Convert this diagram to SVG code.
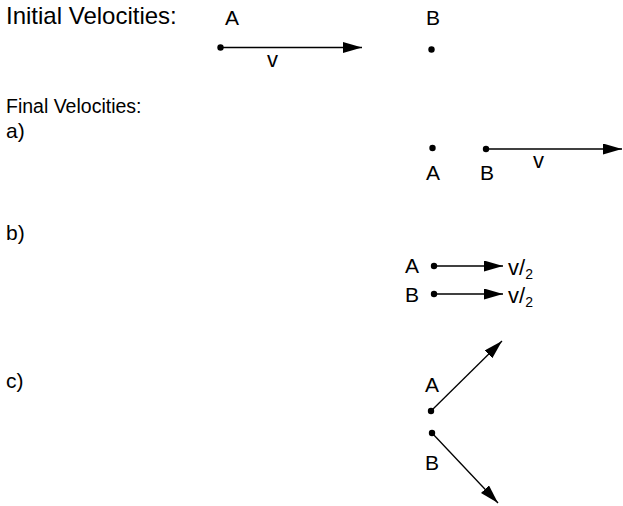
<svg xmlns="http://www.w3.org/2000/svg" width="623" height="506" viewBox="0 0 623 506">
  <style>
    text { font-family: "Liberation Sans", Arial, sans-serif; fill: #000; }
    .lbl { font-size: 21px; }
    .head { font-size: 24px; }
    .sub { font-size: 19.5px; }
    .vel { font-size: 22px; }
    .dot { fill: #000; }
    .arr { stroke: #000; stroke-width: 1.3; fill: none; marker-end: url(#ah); }
  </style>
  <defs>
    <marker id="ah" viewBox="0 0 19 11" refX="19" refY="5.5" markerWidth="19" markerHeight="11" markerUnits="userSpaceOnUse" orient="auto">
      <path d="M0,0 L19,5.5 L0,11 Z" fill="#000"/>
    </marker>
  </defs>

  <g id="headings">
    <text class="head" x="6" y="24">Initial Velocities:</text>
    <text class="sub" x="6" y="113">Final Velocities:</text>
    <text class="lbl" x="6" y="138">a)</text>
    <text class="lbl" x="6" y="240">b)</text>
    <text class="lbl" x="6" y="388">c)</text>
  </g>

  <g id="initial-A">
    <text class="lbl" x="225" y="25">A</text>
    <circle class="dot" cx="220.5" cy="47.5" r="3.2"/>
  </g>
  <g id="initial-B">
    <text class="lbl" x="426" y="25">B</text>
    <circle class="dot" cx="431.5" cy="49.5" r="3.2"/>
  </g>

  <g id="a-A">
    <circle class="dot" cx="432.5" cy="148" r="3.2"/>
    <text class="lbl" x="426" y="180">A</text>
  </g>
  <g id="a-B">
    <circle class="dot" cx="486" cy="149" r="3.2"/>
    <text class="lbl" x="480" y="180">B</text>
  </g>

  <g id="b-A">
    <text class="lbl" x="405" y="273">A</text>
    <circle class="dot" cx="434" cy="266" r="3.2"/>
  </g>
  <g id="b-B">
    <text class="lbl" x="405" y="301.5">B</text>
    <circle class="dot" cx="434" cy="294" r="3.2"/>
  </g>

  <g id="c-A">
    <text class="lbl" x="425" y="392">A</text>
    <circle class="dot" cx="431" cy="411" r="3.2"/>
  </g>
  <g id="c-B">
    <circle class="dot" cx="432" cy="433" r="3.2"/>
    <text class="lbl" x="425" y="470">B</text>
  </g>

  <g id="connectors">
    <line class="arr" x1="220.5" y1="47.5" x2="362" y2="47.5"/>
    <text class="vel" x="267" y="67">v</text>

    <line class="arr" x1="486" y1="149" x2="622" y2="149"/>
    <text class="vel" x="533" y="168">v</text>

    <line class="arr" x1="434" y1="266" x2="503" y2="266"/>
    <text class="vel" x="508" y="275">v/<tspan font-size="14" dy="4">2</tspan></text>

    <line class="arr" x1="434" y1="294" x2="503" y2="294"/>
    <text class="vel" x="508" y="303">v/<tspan font-size="14" dy="4">2</tspan></text>

    <line class="arr" x1="431" y1="411" x2="502" y2="341"/>
    <line class="arr" x1="432" y1="433" x2="498" y2="503"/>
  </g>
</svg>
